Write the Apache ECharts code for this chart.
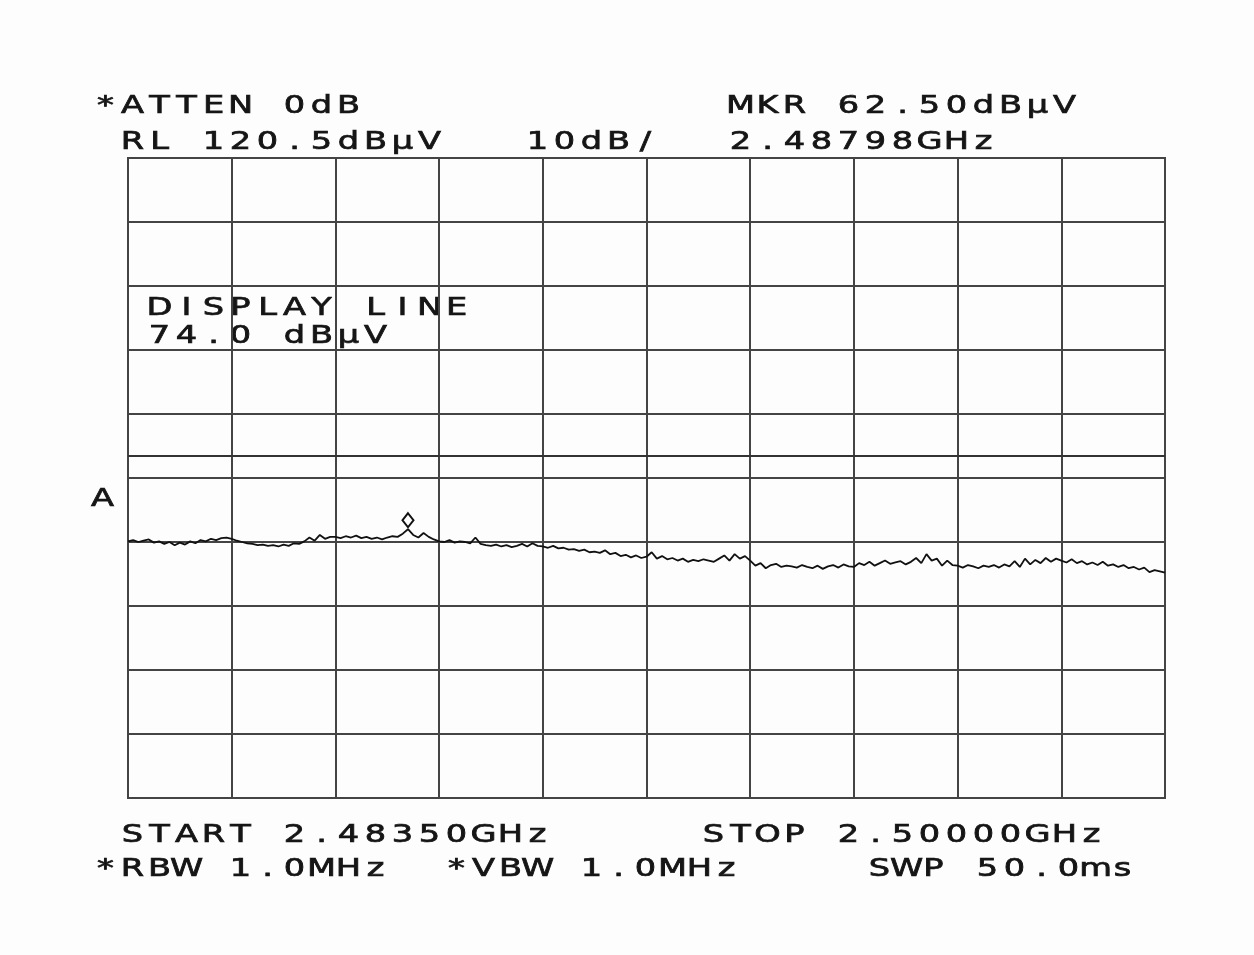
<!DOCTYPE html>
<html><head><meta charset="utf-8">
<script src="https://cdn.jsdelivr.net/npm/echarts@6/dist/echarts.min.js"></script>
<style>html,body{margin:0;padding:0;background:#fdfdfd}#c{width:1254px;height:955px}</style>
</head><body><div id="c"></div>
<script>
// ---- instrument settings ----
const startGHz = 2.4835;
const stopGHz = 2.5000;
const refLevel = 120.5;      // dBµV at top of screen
const dbPerDiv = 10;
const vDivisions = 10;
const hDivisions = 10;
const displayLine = 74.0;    // dBµV
const markerIndex = 54;      // sweep point of the marker
const markerValue = 62.5;    // dBµV

// ---- trace (201 sweep points, dBµV) ----
const traceValues = [
  60.6, 60.8, 60.5, 60.7, 60.9, 60.4, 60.6, 60.2, 60.5, 60.0, 60.4, 60.1, 60.6, 60.3, 60.8, 60.6, 61.0, 60.8, 61.1, 61.2,
  61.0, 60.7, 60.5, 60.3, 60.2, 60.0, 60.1, 59.9, 60.0, 59.8, 60.1, 59.9, 60.3, 60.2, 60.6, 61.2, 60.7, 61.6, 61.0, 61.3,
  61.3, 61.1, 61.4, 61.2, 61.5, 61.1, 61.3, 61.0, 61.2, 60.9, 61.2, 61.4, 61.3, 61.8, 62.5, 61.6, 61.2, 61.9, 61.3, 60.9,
  60.6, 60.5, 60.8, 60.4, 60.6, 60.5, 60.3, 61.2, 60.2, 60.0, 59.9, 60.1, 59.8, 60.0, 59.7, 59.9, 60.2, 59.8, 60.3, 59.9,
  59.8, 59.6, 59.9, 59.5, 59.6, 59.3, 59.4, 59.1, 59.3, 58.9, 59.0, 58.8, 59.2, 58.6, 58.8, 58.3, 58.5, 58.1, 58.4, 58.0,
  58.2, 58.9, 57.9, 58.3, 57.8, 58.0, 57.6, 57.9, 57.4, 57.7, 57.5, 57.8, 57.6, 57.4, 57.9, 58.4, 57.6, 58.6, 57.9, 58.3,
  57.6, 56.8, 57.2, 56.4, 56.9, 57.1, 56.6, 56.8, 56.7, 56.5, 56.9, 56.6, 56.4, 56.8, 56.3, 56.7, 56.9, 56.5, 57.0, 56.7,
  56.6, 57.2, 56.9, 57.4, 56.8, 57.2, 57.6, 57.1, 57.3, 57.5, 57.0, 57.4, 58.0, 57.2, 58.6, 57.6, 57.9, 56.8, 57.6, 56.9,
  56.8, 56.5, 56.9, 56.7, 56.4, 56.8, 56.6, 56.9, 56.5, 57.0, 56.7, 57.5, 56.6, 57.9, 57.0, 57.7, 57.2, 58.0, 57.4, 57.9,
  57.6, 57.3, 57.8, 57.2, 57.5, 57.0, 57.3, 56.9, 57.4, 56.8, 57.0, 56.6, 56.9, 56.4, 56.6, 56.2, 56.5, 55.8, 56.1, 55.9,
  55.7
];

// ---- screen annotations ----
const txtAtten = '*ATTEN 0dB';
const txtRef = 'RL 120.5dBµV   10dB/';
const txtMkr = 'MKR 62.50dBµV';
const txtMkrFreq = '2.48798GHz';
const txtDispLine1 = 'DISPLAY LINE';
const txtDispLine2 = '74.0 dBµV';
const txtStart = 'START 2.48350GHz';
const txtStop = 'STOP 2.50000GHz';
const txtRbw = '*RBW 1.0MHz';
const txtVbw = '*VBW 1.0MHz';
const txtSwp = 'SWP 50.0ms';
const txtTrace = 'A';

// sweep frequencies (category labels)
const nPts = traceValues.length;
const freqLabels = traceValues.map((_, i) =>
  (startGHz + (stopGHz - startGHz) * i / (nPts - 1)).toFixed(6));

const PITCH = 27;
function plotText(str, x0, yc) {
  const children = [];
  for (let i = 0; i < str.length; i++) {
    const ch = str[i];
    if (ch === ' ') continue;
    children.push({
      type: 'text', x: i * PITCH + PITCH / 2, y: 0, scaleX: 1.4,
      style: { text: ch, font: '24px "DejaVu Sans"', fill: '#151515',
               stroke: '#151515', lineWidth: 0.7,
               textAlign: 'center', textVerticalAlign: 'middle' }
    });
  }
  return { type: 'group', x: x0, y: yc, children, silent: true };
}

const chart = echarts.init(document.getElementById('c'), null, { renderer: 'canvas' });
chart.setOption({
  animation: false,
  backgroundColor: '#fdfdfd',
  grid: { left: 128, top: 158, width: 1037, height: 640, show: true,
          borderColor: '#444', borderWidth: 2, backgroundColor: 'transparent' },
  xAxis: {
    type: 'category', data: freqLabels, boundaryGap: false,
    axisLine: { show: true, lineStyle: { color: '#444', width: 2 } },
    axisTick: { show: false }, axisLabel: { show: false },
    splitLine: { show: true, interval: (i) => i % ((nPts - 1) / hDivisions) === 0,
                 lineStyle: { color: '#444', width: 2 } }
  },
  yAxis: [
    { type: 'value', min: 0, max: vDivisions, interval: 1,
      axisLine: { show: false }, axisTick: { show: false }, axisLabel: { show: false },
      splitLine: { show: true, lineStyle: { color: '#444', width: 2 } } },
    { type: 'value', min: refLevel - dbPerDiv * vDivisions, max: refLevel, show: false,
      splitLine: { show: false } }
  ],
  series: [{
    type: 'line', yAxisIndex: 1, data: traceValues, showSymbol: false,
    lineStyle: { color: '#111', width: 1.8 },
    markLine: {
      silent: true, symbol: 'none', label: { show: false },
      lineStyle: { color: '#333', width: 2, type: 'solid' },
      data: [{ yAxis: displayLine }]
    },
    markPoint: {
      silent: true, label: { show: false },
      data: [{ coord: [freqLabels[markerIndex], markerValue], symbol: 'diamond',
               symbolSize: [11, 14], symbolOffset: [0, -9] }],
      itemStyle: { color: '#fdfdfd', borderColor: '#111', borderWidth: 2 }
    }
  }],
  graphic: [
    plotText(txtAtten, 92, 107),
    plotText(txtRef, 119, 143),
    plotText(txtMkr, 727, 107),
    plotText(txtMkrFreq, 727, 143),
    plotText(txtDispLine1, 146, 309),
    plotText(txtDispLine2, 146, 337),
    plotText(txtStart, 119, 836),
    plotText(txtStop, 700, 836),
    plotText(txtRbw, 92, 870),
    plotText(txtVbw, 443, 870),
    plotText(txtSwp, 866, 870),
    plotText(txtTrace, 89, 500)
  ]
});
</script></body></html>
